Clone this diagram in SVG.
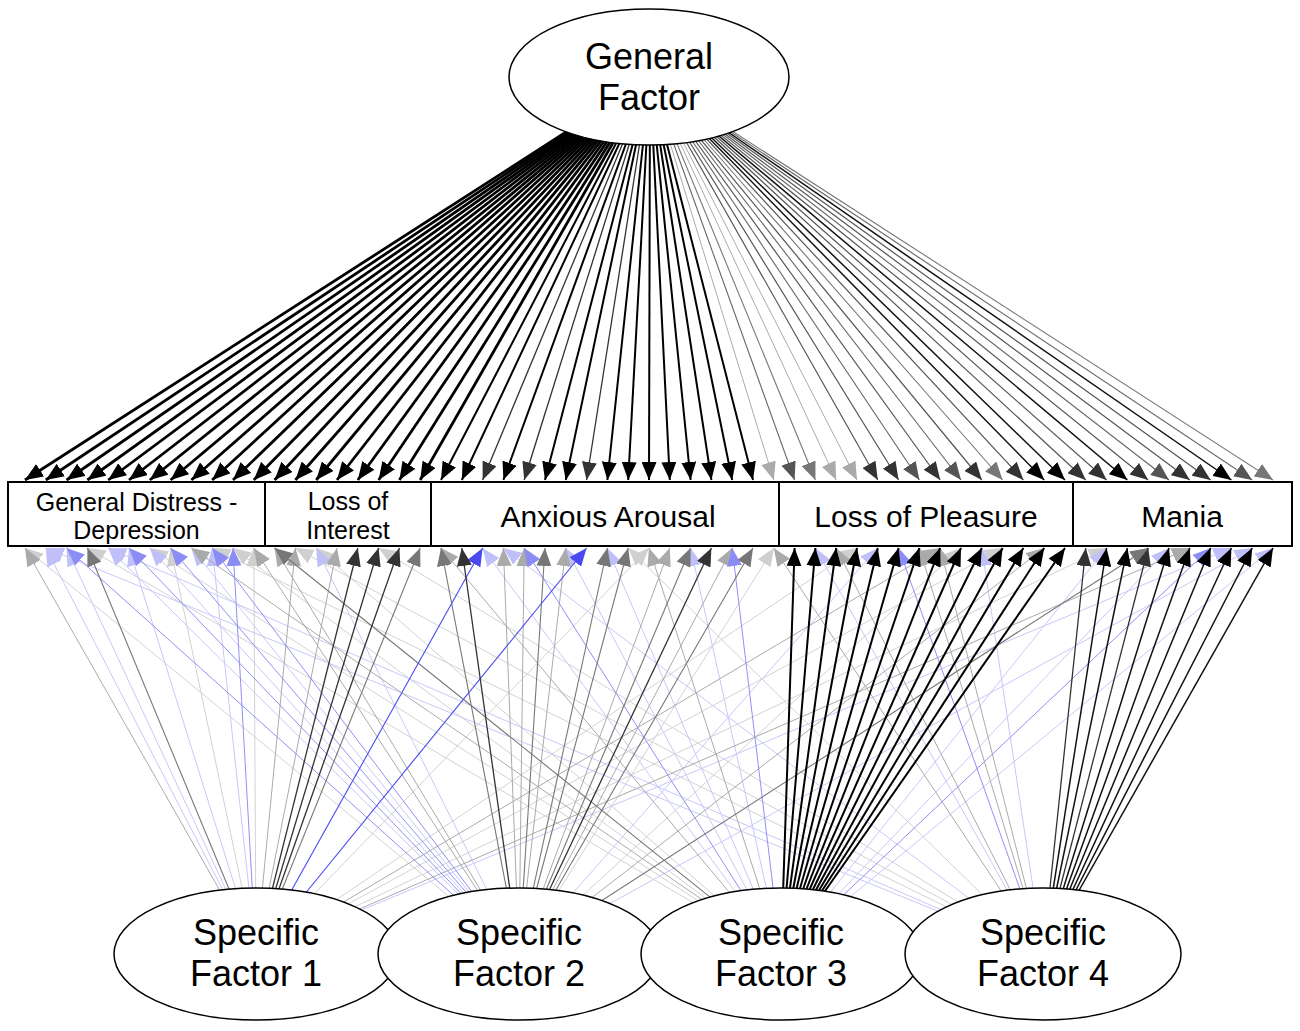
<svg xmlns="http://www.w3.org/2000/svg" width="1300" height="1031" viewBox="0 0 1300 1031">
<style>
text{font-family:"Liberation Sans",Arial,sans-serif;fill:#000;text-anchor:middle}
.node ellipse,.node rect{fill:#fff;stroke:#000}
.node ellipse{stroke-width:1.5}
.node rect{stroke-width:2}
.big{font-size:36px}
.lab{font-size:30px}
.sm{font-size:25px}
line{fill:none}
.tk3{stroke:#000;stroke-width:2.8;marker-end:url(#aK)}
.tk2{stroke:#000;stroke-width:2;marker-end:url(#aK)}
.tk15{stroke:#111;stroke-width:1.5;marker-end:url(#aK)}
.d{stroke:#333;stroke-width:1.3;marker-end:url(#aD)}
.td{stroke:#555;stroke-width:1.2;marker-end:url(#aD)}
.g5{stroke:#666;stroke-width:1.1;marker-end:url(#aG5)}
.g{stroke:#777;stroke-width:1.1;marker-end:url(#aG)}
.l{stroke:#aaa;stroke-width:1;marker-end:url(#aL)}
.ll{stroke:#d2d2d2;stroke-width:1;marker-end:url(#aLL)}
.b{stroke:#4a4af0;stroke-width:1.1;marker-end:url(#aB)}
.bl{stroke:#9090f5;stroke-width:1;marker-end:url(#aBL)}
.bll{stroke:#c8c8f8;stroke-width:1;marker-end:url(#aBLL)}
</style>
<defs>
<marker id="aK" viewBox="0 0 18 15" refX="18" refY="7.5" markerWidth="18" markerHeight="15" markerUnits="userSpaceOnUse" orient="auto"><path d="M0,0L18,7.5L0,15z" fill="#000"/></marker>
<marker id="aD" viewBox="0 0 18 15" refX="18" refY="7.5" markerWidth="18" markerHeight="15" markerUnits="userSpaceOnUse" orient="auto"><path d="M0,0L18,7.5L0,15z" fill="#333"/></marker>
<marker id="aG5" viewBox="0 0 18 15" refX="18" refY="7.5" markerWidth="18" markerHeight="15" markerUnits="userSpaceOnUse" orient="auto"><path d="M0,0L18,7.5L0,15z" fill="#555"/></marker>
<marker id="aG" viewBox="0 0 18 15" refX="18" refY="7.5" markerWidth="18" markerHeight="15" markerUnits="userSpaceOnUse" orient="auto"><path d="M0,0L18,7.5L0,15z" fill="#777"/></marker>
<marker id="aL" viewBox="0 0 18 15" refX="18" refY="7.5" markerWidth="18" markerHeight="15" markerUnits="userSpaceOnUse" orient="auto"><path d="M0,0L18,7.5L0,15z" fill="#aaa"/></marker>
<marker id="aLL" viewBox="0 0 18 15" refX="18" refY="7.5" markerWidth="18" markerHeight="15" markerUnits="userSpaceOnUse" orient="auto"><path d="M0,0L18,7.5L0,15z" fill="#cfcfcf"/></marker>
<marker id="aB" viewBox="0 0 18 15" refX="18" refY="7.5" markerWidth="18" markerHeight="15" markerUnits="userSpaceOnUse" orient="auto"><path d="M0,0L18,7.5L0,15z" fill="#4a4af0"/></marker>
<marker id="aBL" viewBox="0 0 18 15" refX="18" refY="7.5" markerWidth="18" markerHeight="15" markerUnits="userSpaceOnUse" orient="auto"><path d="M0,0L18,7.5L0,15z" fill="#8c8cf5"/></marker>
<marker id="aBLL" viewBox="0 0 18 15" refX="18" refY="7.5" markerWidth="18" markerHeight="15" markerUnits="userSpaceOnUse" orient="auto"><path d="M0,0L18,7.5L0,15z" fill="#c0c0f8"/></marker>
</defs>
<g id="connectors">
<g id="specific-loadings">
<g class="ll">
<line x1="256" y1="954" x2="170.6" y2="548"/><line x1="256" y1="954" x2="253.8" y2="548"/><line x1="256" y1="954" x2="649" y2="548"/><line x1="256" y1="954" x2="857" y2="548"/><line x1="256" y1="954" x2="1106.6" y2="548"/><line x1="256" y1="954" x2="1002.6" y2="548"/>
<line x1="519" y1="954" x2="773.8" y2="548"/><line x1="519" y1="954" x2="961" y2="548"/><line x1="519" y1="954" x2="25" y2="548"/>
<line x1="781" y1="954" x2="87.4" y2="548"/><line x1="781" y1="954" x2="149.8" y2="548"/><line x1="781" y1="954" x2="233" y2="548"/><line x1="781" y1="954" x2="316.2" y2="548"/>
<line x1="1043" y1="954" x2="212.2" y2="548"/><line x1="1043" y1="954" x2="295.4" y2="548"/><line x1="1043" y1="954" x2="378.6" y2="548"/><line x1="1043" y1="954" x2="628.2" y2="548"/>
</g>
<g class="bll">
<line x1="256" y1="954" x2="45.8" y2="548"/><line x1="256" y1="954" x2="66.6" y2="548"/><line x1="256" y1="954" x2="129" y2="548"/><line x1="256" y1="954" x2="212.2" y2="548"/><line x1="256" y1="954" x2="1231.4" y2="548"/>
<line x1="519" y1="954" x2="108.2" y2="548"/><line x1="519" y1="954" x2="149.8" y2="548"/><line x1="519" y1="954" x2="191.4" y2="548"/><line x1="519" y1="954" x2="316.2" y2="548"/><line x1="519" y1="954" x2="877.8" y2="548"/><line x1="519" y1="954" x2="1252.2" y2="548"/>
<line x1="781" y1="954" x2="482.6" y2="548"/><line x1="781" y1="954" x2="565.8" y2="548"/><line x1="781" y1="954" x2="607.4" y2="548"/><line x1="781" y1="954" x2="690.6" y2="548"/><line x1="781" y1="954" x2="1106.6" y2="548"/><line x1="781" y1="954" x2="1169" y2="548"/><line x1="781" y1="954" x2="1273" y2="548"/>
<line x1="1043" y1="954" x2="815.4" y2="548"/><line x1="1043" y1="954" x2="981.8" y2="548"/><line x1="1043" y1="954" x2="45.8" y2="548"/><line x1="1043" y1="954" x2="108.2" y2="548"/><line x1="1043" y1="954" x2="503.4" y2="548"/>
</g>
<g class="l">
<line x1="256" y1="954" x2="25" y2="548"/><line x1="256" y1="954" x2="295.4" y2="548"/><line x1="256" y1="954" x2="337" y2="548"/><line x1="256" y1="954" x2="940.2" y2="548"/><line x1="256" y1="954" x2="1189.8" y2="548"/>
<line x1="519" y1="954" x2="253.8" y2="548"/><line x1="519" y1="954" x2="274.6" y2="548"/><line x1="519" y1="954" x2="503.4" y2="548"/><line x1="519" y1="954" x2="565.8" y2="548"/><line x1="519" y1="954" x2="669.8" y2="548"/><line x1="519" y1="954" x2="732.2" y2="548"/><line x1="519" y1="954" x2="1044.2" y2="548"/><line x1="519" y1="954" x2="524.2" y2="548"/>
<line x1="781" y1="954" x2="191.4" y2="548"/><line x1="781" y1="954" x2="441" y2="548"/><line x1="781" y1="954" x2="649" y2="548"/>
<line x1="1043" y1="954" x2="836.2" y2="548"/><line x1="1043" y1="954" x2="919.4" y2="548"/><line x1="1043" y1="954" x2="940.2" y2="548"/><line x1="1043" y1="954" x2="773.8" y2="548"/>
</g>
<g class="bl">
<line x1="256" y1="954" x2="233" y2="548"/>
<line x1="519" y1="954" x2="66.6" y2="548"/><line x1="519" y1="954" x2="129" y2="548"/><line x1="519" y1="954" x2="170.6" y2="548"/><line x1="519" y1="954" x2="212.2" y2="548"/>
<line x1="781" y1="954" x2="524.2" y2="548"/><line x1="781" y1="954" x2="732.2" y2="548"/><line x1="781" y1="954" x2="1210.6" y2="548"/>
<line x1="1043" y1="954" x2="898.6" y2="548"/>
</g>
<g class="g">
<line x1="256" y1="954" x2="87.4" y2="548"/><line x1="256" y1="954" x2="420.2" y2="548"/>
<line x1="519" y1="954" x2="441" y2="548"/><line x1="519" y1="954" x2="545" y2="548"/><line x1="519" y1="954" x2="607.4" y2="548"/><line x1="519" y1="954" x2="628.2" y2="548"/><line x1="519" y1="954" x2="690.6" y2="548"/><line x1="519" y1="954" x2="753" y2="548"/><line x1="519" y1="954" x2="1148.2" y2="548"/>
<line x1="781" y1="954" x2="274.6" y2="548"/>
</g>
<g class="b">
<line x1="256" y1="954" x2="482.6" y2="548"/><line x1="256" y1="954" x2="586.6" y2="548"/>
</g>
<g class="d">
<line x1="256" y1="954" x2="357.8" y2="548"/><line x1="256" y1="954" x2="378.6" y2="548"/><line x1="256" y1="954" x2="399.4" y2="548"/>
<line x1="519" y1="954" x2="461.8" y2="548"/><line x1="519" y1="954" x2="711.4" y2="548"/>
<line x1="1043" y1="954" x2="1085.8" y2="548"/><line x1="1043" y1="954" x2="1148.2" y2="548"/>
</g>
<g class="tk15">
<line x1="1043" y1="954" x2="1106.6" y2="548"/><line x1="1043" y1="954" x2="1127.4" y2="548"/><line x1="1043" y1="954" x2="1169" y2="548"/><line x1="1043" y1="954" x2="1189.8" y2="548"/><line x1="1043" y1="954" x2="1210.6" y2="548"/><line x1="1043" y1="954" x2="1231.4" y2="548"/><line x1="1043" y1="954" x2="1252.2" y2="548"/><line x1="1043" y1="954" x2="1273" y2="548"/>
</g>
<g class="tk2">
<line x1="781" y1="954" x2="794.6" y2="548"/><line x1="781" y1="954" x2="815.4" y2="548"/><line x1="781" y1="954" x2="836.2" y2="548"/><line x1="781" y1="954" x2="857" y2="548"/><line x1="781" y1="954" x2="877.8" y2="548"/><line x1="781" y1="954" x2="898.6" y2="548"/><line x1="781" y1="954" x2="919.4" y2="548"/><line x1="781" y1="954" x2="940.2" y2="548"/><line x1="781" y1="954" x2="961" y2="548"/><line x1="781" y1="954" x2="981.8" y2="548"/><line x1="781" y1="954" x2="1002.6" y2="548"/><line x1="781" y1="954" x2="1023.4" y2="548"/><line x1="781" y1="954" x2="1044.2" y2="548"/><line x1="781" y1="954" x2="1065" y2="548"/>
</g>
</g>
<g id="general-loadings">
<g class="l">
<line x1="650" y1="78" x2="773.8" y2="480"/><line x1="650" y1="78" x2="836.2" y2="480"/><line x1="650" y1="78" x2="857" y2="480"/>
</g>
<g class="g">
<line x1="650" y1="78" x2="815.4" y2="480"/><line x1="650" y1="78" x2="1002.6" y2="480"/><line x1="650" y1="78" x2="1273" y2="480"/>
</g>
<g class="g5">
<line x1="650" y1="78" x2="794.6" y2="480"/><line x1="650" y1="78" x2="919.4" y2="480"/><line x1="650" y1="78" x2="961" y2="480"/><line x1="650" y1="78" x2="1169" y2="480"/><line x1="650" y1="78" x2="1252.2" y2="480"/>
</g>
<g class="td">
<line x1="650" y1="78" x2="877.8" y2="480"/><line x1="650" y1="78" x2="898.6" y2="480"/><line x1="650" y1="78" x2="940.2" y2="480"/><line x1="650" y1="78" x2="981.8" y2="480"/><line x1="650" y1="78" x2="1023.4" y2="480"/><line x1="650" y1="78" x2="1085.8" y2="480"/><line x1="650" y1="78" x2="1106.6" y2="480"/><line x1="650" y1="78" x2="1148.2" y2="480"/><line x1="650" y1="78" x2="1189.8" y2="480"/><line x1="650" y1="78" x2="1210.6" y2="480"/>
</g>
<g class="d">
<line x1="650" y1="78" x2="482.6" y2="480"/><line x1="650" y1="78" x2="524.2" y2="480"/><line x1="650" y1="78" x2="586.6" y2="480"/>
</g>
<g class="tk15">
<line x1="650" y1="78" x2="1044.2" y2="480"/><line x1="650" y1="78" x2="1065" y2="480"/><line x1="650" y1="78" x2="1127.4" y2="480"/><line x1="650" y1="78" x2="1231.4" y2="480"/>
</g>
<g class="tk2">
<line x1="650" y1="78" x2="441" y2="480"/><line x1="650" y1="78" x2="461.8" y2="480"/><line x1="650" y1="78" x2="503.4" y2="480"/><line x1="650" y1="78" x2="545" y2="480"/><line x1="650" y1="78" x2="565.8" y2="480"/><line x1="650" y1="78" x2="607.4" y2="480"/><line x1="650" y1="78" x2="628.2" y2="480"/><line x1="650" y1="78" x2="649" y2="480"/><line x1="650" y1="78" x2="669.8" y2="480"/><line x1="650" y1="78" x2="690.6" y2="480"/><line x1="650" y1="78" x2="711.4" y2="480"/><line x1="650" y1="78" x2="732.2" y2="480"/><line x1="650" y1="78" x2="753" y2="480"/>
</g>
<g class="tk3">
<line x1="650" y1="78" x2="25" y2="480"/><line x1="650" y1="78" x2="45.8" y2="480"/><line x1="650" y1="78" x2="66.6" y2="480"/><line x1="650" y1="78" x2="87.4" y2="480"/><line x1="650" y1="78" x2="108.2" y2="480"/><line x1="650" y1="78" x2="129" y2="480"/><line x1="650" y1="78" x2="149.8" y2="480"/><line x1="650" y1="78" x2="170.6" y2="480"/><line x1="650" y1="78" x2="191.4" y2="480"/><line x1="650" y1="78" x2="212.2" y2="480"/><line x1="650" y1="78" x2="233" y2="480"/><line x1="650" y1="78" x2="253.8" y2="480"/><line x1="650" y1="78" x2="274.6" y2="480"/><line x1="650" y1="78" x2="295.4" y2="480"/><line x1="650" y1="78" x2="316.2" y2="480"/><line x1="650" y1="78" x2="337" y2="480"/><line x1="650" y1="78" x2="357.8" y2="480"/><line x1="650" y1="78" x2="378.6" y2="480"/><line x1="650" y1="78" x2="399.4" y2="480"/><line x1="650" y1="78" x2="420.2" y2="480"/>
</g>
</g>
</g>
<g id="general-factor" class="node">
<ellipse cx="649" cy="77" rx="140" ry="68"/>
<text class="big" x="649" y="69">General</text>
<text class="big" x="649" y="110">Factor</text>
</g>
<g id="general-distress-depression" class="node">
<rect x="8" y="482" width="257" height="64"/>
<text class="sm" x="136.5" y="511">General Distress -</text>
<text class="sm" x="136.5" y="539">Depression</text>
</g>
<g id="loss-of-interest" class="node">
<rect x="265" y="482" width="166" height="64"/>
<text class="sm" x="348" y="510">Loss of</text>
<text class="sm" x="348" y="539">Interest</text>
</g>
<g id="anxious-arousal" class="node">
<rect x="431" y="482" width="348" height="64"/>
<text class="lab" x="608" y="527">Anxious Arousal</text>
</g>
<g id="loss-of-pleasure" class="node">
<rect x="779" y="482" width="294" height="64"/>
<text class="lab" x="926" y="527">Loss of Pleasure</text>
</g>
<g id="mania" class="node">
<rect x="1073" y="482" width="219" height="64"/>
<text class="lab" x="1182" y="527">Mania</text>
</g>
<g id="specific-factor-1" class="node">
<ellipse cx="256" cy="954" rx="142" ry="66"/>
<text class="big" x="256" y="945">Specific</text>
<text class="big" x="256" y="986">Factor 1</text>
</g>
<g id="specific-factor-2" class="node">
<ellipse cx="519" cy="954" rx="141" ry="66"/>
<text class="big" x="519" y="945">Specific</text>
<text class="big" x="519" y="986">Factor 2</text>
</g>
<g id="specific-factor-3" class="node">
<ellipse cx="781" cy="954" rx="140" ry="66"/>
<text class="big" x="781" y="945">Specific</text>
<text class="big" x="781" y="986">Factor 3</text>
</g>
<g id="specific-factor-4" class="node">
<ellipse cx="1043" cy="954" rx="138" ry="66"/>
<text class="big" x="1043" y="945">Specific</text>
<text class="big" x="1043" y="986">Factor 4</text>
</g>
</svg>
